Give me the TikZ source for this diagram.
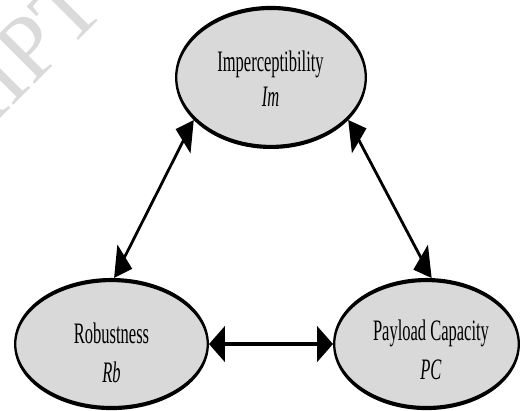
\documentclass[tikz,border=0pt]{standalone}
\usepackage{fontspec}
\setmainfont{Liberation Serif}
\usetikzlibrary{shapes.geometric,arrows.meta}
\definecolor{ovalfill}{RGB}{217,217,217}
\definecolor{markgray}{RGB}{218,218,218}
\tikzset{
  oval/.style={ellipse, draw=black, fill=ovalfill, line width=2.3pt, inner sep=0pt},
  ovaltext/.style={align=center, inner sep=0pt, font=\fontsize{16.5}{19.6}\selectfont},
  lowtext/.style={ovaltext, font=\fontsize{16.5}{22}\selectfont},
  bigtip/.tip={Triangle[length=16pt,width=19.5pt]},
  link/.style={line width=2.3pt, bigtip-bigtip},
}
\begin{document}
\begin{tikzpicture}[x=1pt,y=1pt]
\useasboundingbox (0,0) rectangle (521,411);
% faint diagonal watermark in the upper left corner
\begin{scope}
  \clip (0,0) rectangle (521,411);
  \node[anchor=base west, rotate=45, inner sep=0pt, text=markgray,
        font=\fontsize{92}{92}\selectfont] (mark) at (-112,180) {SCRIPT};
\end{scope}
% the three properties and their trade-offs, drawn in a vertically stretched frame
\begin{scope}[transform canvas={yscale=1.8}]
  \node[oval, minimum width=189.6pt, minimum height=77.2pt] (im) at (271,185.3) {};
  \node[oval, minimum width=192.6pt, minimum height=71.1pt] (rb) at (111.5,37.2) {};
  \node[oval, minimum width=184.6pt, minimum height=71.1pt] (pc) at (426.5,37.2) {};
  \node[ovaltext] (imtext) at (270.5,184.8) {Imperceptibility\\\textit{Im}};
  \node[lowtext] (rbtext) at (111.5,32.2) {Robustness\\\textit{Rb}};
  \node[lowtext] (pctext) at (431,33.9) {Payload Capacity\\\textit{PC}};
  \draw[link] (rb.86) -- (im.197);
  \draw[link] (pc.82) -- (im.343.5);
  \draw[link] (rb.east) -- (pc.west);
\end{scope}
\end{tikzpicture}
\end{document}
